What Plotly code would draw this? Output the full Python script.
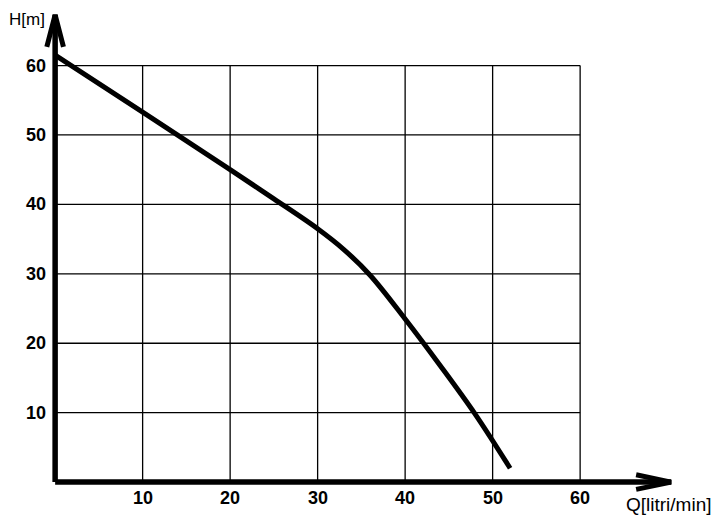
import plotly.graph_objects as go

# Data
q_vals = [0, 10, 20, 25, 30, 33, 36, 40, 44, 48, 52]
h_vals = [61.5, 53.3, 45, 40.8, 36.5, 33.5, 29.8, 23.5, 16.8, 9.8, 2]
x_ticks = [10, 20, 30, 40, 50, 60]
y_ticks = [10, 20, 30, 40, 50, 60]
x_title = "Q[litri/min]"
y_title = "H[m]"

X_END = 70.4
Y_END = 67.3

fig = go.Figure()

# grid
shapes = []
for t in x_ticks:
    shapes.append(dict(type="line", xref="x", yref="y", x0=t, x1=t, y0=0, y1=max(y_ticks),
                       line=dict(color="black", width=1.3), layer="below"))
for t in y_ticks:
    shapes.append(dict(type="line", xref="x", yref="y", x0=0, x1=max(x_ticks), y0=t, y1=t,
                       line=dict(color="black", width=1.3), layer="below"))

# curve
fig.add_trace(go.Scatter(x=q_vals, y=h_vals, mode="lines",
                         line=dict(color="black", width=5, shape="spline", smoothing=1.0),
                         hoverinfo="skip"))

# axes with arrows
fig.add_trace(go.Scatter(x=[0, X_END], y=[0, 0], mode="lines",
                         line=dict(color="black", width=5.5), hoverinfo="skip"))
fig.add_trace(go.Scatter(x=[0, 0], y=[0, Y_END], mode="lines",
                         line=dict(color="black", width=5.5), hoverinfo="skip"))
fig.add_trace(go.Scatter(x=[X_END - 4.0, X_END, X_END - 4.0], y=[1.05, 0, -1.05], mode="lines",
                         line=dict(color="black", width=5), hoverinfo="skip"))
fig.add_trace(go.Scatter(x=[-0.95, 0, 0.95], y=[Y_END - 4.6, Y_END, Y_END - 4.6], mode="lines",
                         line=dict(color="black", width=5), hoverinfo="skip"))

annotations = []
for t in x_ticks:
    annotations.append(dict(x=t, y=0, xref="x", yref="y", text="<b>" + str(t) + "</b>", showarrow=False,
                            yshift=-16, font=dict(size=18, color="black", family="Liberation Sans"),
                            xanchor="center", yanchor="middle"))
for t in y_ticks:
    annotations.append(dict(x=0, y=t, xref="x", yref="y", text="<b>" + str(t) + "</b>", showarrow=False,
                            xshift=-7, font=dict(size=18, color="black", family="Liberation Sans"),
                            xanchor="right", yanchor="middle"))
annotations.append(dict(x=0, y=Y_END, xref="x", yref="y", text=y_title, showarrow=False,
                        xshift=-28, yshift=-5, font=dict(size=17, color="black", family="Liberation Sans"),
                        xanchor="center", yanchor="middle"))
annotations.append(dict(x=X_END, y=0, xref="x", yref="y", text=x_title, showarrow=False,
                        xshift=-2, yshift=-22, font=dict(size=19, color="black", family="Liberation Sans"),
                        xanchor="center", yanchor="middle"))

# page body has an 8px margin: the figure is offset by 8px, so size/margins compensate
fig.update_layout(
    width=715, height=513,
    margin=dict(l=34, r=37, t=2, b=25),
    paper_bgcolor="white", plot_bgcolor="white",
    showlegend=False,
    shapes=shapes, annotations=annotations,
    font=dict(family="Liberation Sans", color="black"),
    xaxis=dict(range=[-1.5, 72.1], showgrid=False, zeroline=False, showticklabels=False,
               showline=False, ticks="", fixedrange=True),
    yaxis=dict(range=[-2, 68], showgrid=False, zeroline=False, showticklabels=False,
               showline=False, ticks="", fixedrange=True),
)

fig.write_html("out.html")
